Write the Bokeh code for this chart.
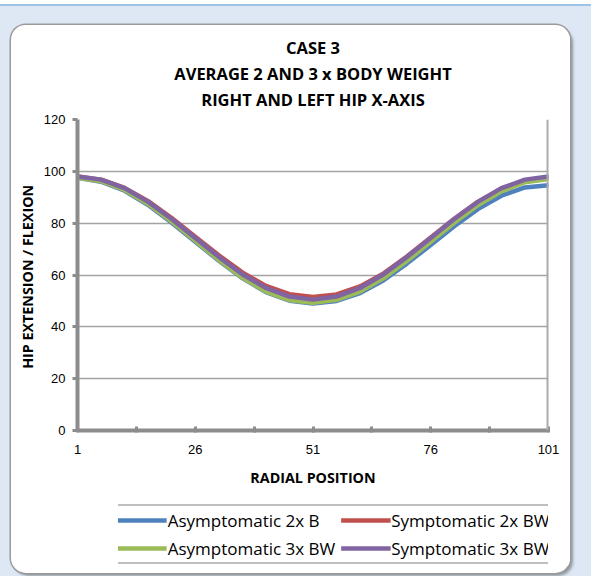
from bokeh.plotting import figure
from bokeh.models import (Range1d, FixedTicker, Legend, LegendItem, Span, Title)
from bokeh.layouts import column
from bokeh.embed import file_html
from bokeh.resources import INLINE

# Radial position samples (every 5th position)
radial_position = [1, 6, 11, 16, 21, 26, 31, 36, 41, 46, 51,
                   56, 61, 66, 71, 76, 81, 86, 91, 96, 101]

asym_2x = [97.5, 96.0, 92.5, 87.0, 80.2, 72.8, 65.5, 58.8, 53.4, 50.1, 49.0,
           50.0, 53.0, 58.0, 64.5, 71.6, 78.8, 85.4, 90.6, 93.8, 94.6]
sym_2x = [98.0, 96.8, 93.6, 88.5, 82.0, 74.8, 67.6, 61.0, 55.8, 52.6, 51.5,
          52.5, 55.6, 60.6, 67.2, 74.5, 81.7, 88.2, 93.3, 96.5, 97.6]
asym_3x = [97.5, 96.2, 92.8, 87.4, 80.6, 73.2, 65.8, 59.0, 53.6, 50.3, 49.3,
           50.4, 53.6, 58.8, 65.5, 72.8, 80.2, 86.9, 92.3, 95.8, 97.0]
sym_3x = [98.0, 96.8, 93.5, 88.2, 81.6, 74.3, 67.0, 60.3, 55.0, 51.7, 50.5,
          51.7, 55.0, 60.3, 67.0, 74.3, 81.6, 88.2, 93.5, 96.8, 98.0]

series_names = ["Asymptomatic 2x B", "Symptomatic 2x BW",
                "Asymptomatic 3x BW", "Symptomatic 3x BW"]
series_values = [asym_2x, sym_2x, asym_3x, sym_3x]
series_colors = ["#4F81BD", "#C0504D", "#9BBB59", "#8064A2"]

x_label_ticks = [1, 26, 51, 76, 101]
x_minor_ticks = [13.5, 38.5, 63.5, 88.5]
y_ticks = [0, 20, 40, 60, 80, 100, 120]

title_lines = ["CASE 3", "AVERAGE 2 AND 3 x BODY WEIGHT", "RIGHT AND LEFT HIP X-AXIS"]

AXIS_GRAY = "#8c8c8c"
TITLE_FONT = "Open Sans"
TICK_FONT = "Liberation Sans"

PANEL_W, PANEL_H = 559, 548
CHART_H = 478
LEGEND_H = 62

p = figure(width=PANEL_W, height=CHART_H,
           x_range=Range1d(1, 101), y_range=Range1d(0, 120),
           output_backend="svg", toolbar_location=None,
           min_border_left=66, min_border_right=22,
           min_border_top=94, min_border_bottom=73,
           background_fill_color="white", border_fill_color="white",
           outline_line_color=None)

# small gap between the plot area and the title block
p.add_layout(Title(text=" ", text_font_size="1px", standoff=5), "above")

# stacked title lines (first added sits closest to the plot)
for line in reversed(title_lines):
    p.add_layout(Title(text=line, align="center", text_font=TITLE_FONT,
                       text_font_size="16.5px", text_font_style="bold",
                       text_color="#000000", text_line_height=0.82,
                       standoff=1, offset=0), "above")

# grid
p.xgrid.visible = False
p.ygrid.ticker = FixedTicker(ticks=y_ticks)
p.ygrid.grid_line_color = "#a3a3a3"
p.ygrid.grid_line_width = 1.5

# y axis
ya = p.yaxis[0]
ya.ticker = FixedTicker(ticks=y_ticks)
ya.axis_line_color = AXIS_GRAY
ya.axis_line_width = 4
ya.major_tick_line_color = AXIS_GRAY
ya.major_tick_line_width = 3
ya.major_tick_out = 5
ya.major_tick_in = 0
ya.minor_tick_line_color = None
ya.major_label_text_font = TICK_FONT
ya.major_label_text_font_size = "13px"
ya.major_label_text_color = "#000000"
ya.major_label_standoff = 7
ya.axis_label = "HIP  EXTENSION / FLEXION"
ya.axis_label_text_font = TITLE_FONT
ya.axis_label_text_font_size = "14.3px"
ya.axis_label_text_font_style = "bold"
ya.axis_label_text_color = "#000000"
ya.axis_label_standoff = 4

# x axis
xa = p.xaxis[0]
xa.ticker = FixedTicker(ticks=x_label_ticks, minor_ticks=x_minor_ticks)
xa.axis_line_color = AXIS_GRAY
xa.axis_line_width = 4
xa.major_tick_line_color = AXIS_GRAY
xa.major_tick_line_width = 3
xa.major_tick_in = 4
xa.major_tick_out = 2
xa.minor_tick_line_color = AXIS_GRAY
xa.minor_tick_line_width = 3
xa.minor_tick_in = 4
xa.minor_tick_out = 2
xa.major_label_text_font = TICK_FONT
xa.major_label_text_font_size = "13px"
xa.major_label_text_color = "#000000"
xa.major_label_standoff = 12
xa.axis_label = "RADIAL POSITION"
xa.axis_label_text_font = TITLE_FONT
xa.axis_label_text_font_size = "14.3px"
xa.axis_label_text_font_style = "bold"
xa.axis_label_text_color = "#000000"
xa.axis_label_standoff = 11

# right edge of the plotting area
p.add_layout(Span(location=101, dimension="height", line_color="#ababab",
                  line_width=4))

for vals, color in zip(series_values, series_colors):
    p.line(radial_position, vals, line_color=color, line_width=4.5,
           line_join="round", line_cap="round")

# legend strip under the chart: two rows of two entries.
# The swatch renderers sit outside this strip's visible x range.
leg_fig = figure(width=PANEL_W - 41, height=LEGEND_H,
                 x_range=Range1d(-20, -10), y_range=Range1d(0, 120),
                 x_axis_type=None, y_axis_type=None,
                 output_backend="svg", toolbar_location=None,
                 min_border=0, outline_line_color=None,
                 background_fill_color="white", border_fill_color="white")
leg_fig.margin = (0, 0, 0, 41)
leg_fig.grid.visible = False
swatches = [leg_fig.line(radial_position, vals, line_color=c, line_width=4.5)
            for vals, c in zip(series_values, series_colors)]

legend = Legend(items=[LegendItem(label=n, renderers=[r])
                       for n, r in zip(series_names, swatches)],
                location="center", orientation="horizontal", ncols=2,
                label_text_font=TITLE_FONT, label_text_font_size="17px",
                label_text_color="#000000", label_standoff=1,
                glyph_width=50, glyph_height=21, label_height=21,
                spacing=5, padding=3, margin=0,
                border_line_color="#000000", border_line_width=1.2,
                background_fill_color="white", background_fill_alpha=1)
leg_fig.add_layout(legend, "center")

panel = column(p, leg_fig, width=PANEL_W, height=PANEL_H, margin=(19, 0, 0, 11),
               styles={"border-radius": "15px", "overflow": "hidden",
                       "background-color": "white",
                       "box-shadow": "0 0 0 1.5px #9a9a9a, 3px 3px 3px rgba(0,0,0,0.35)"})

page = column(panel, width=591, height=572, margin=(4, 0, 0, 0),
              styles={"background-color": "#dde8f4",
                      "border-top": "2px solid #9dc3e6"})

open("out.html", "w").write(file_html(page, INLINE))
